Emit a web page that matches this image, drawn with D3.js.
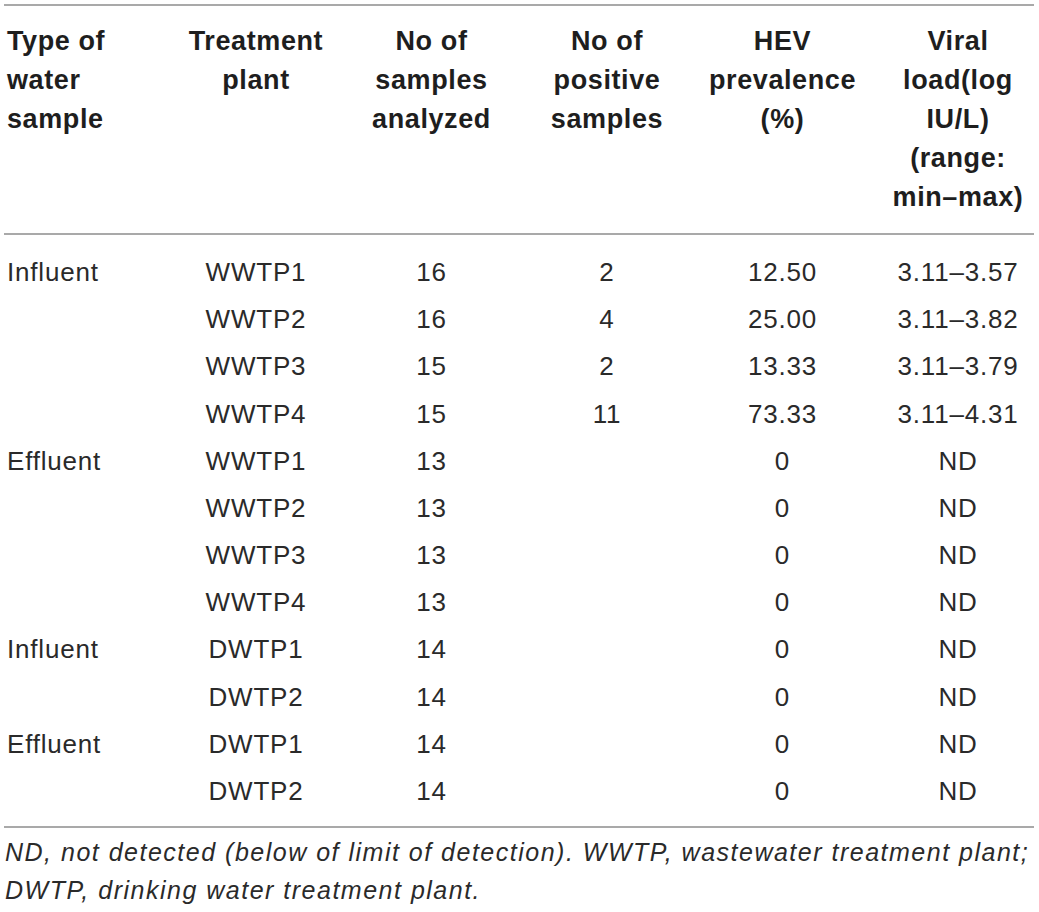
<!DOCTYPE html>
<html>
<head>
<meta charset="utf-8">
<script src="https://cdn.jsdelivr.net/npm/d3@7"></script>
<style>
  body { margin: 0; background: #fff; }
  svg text { font-family: "Liberation Sans", Arial, Helvetica, sans-serif; }
</style>
</head>
<body>
<div id="table"></div>
<script>
// table contents
const headers = [
  ['Type of', 'water', 'sample'],
  ['Treatment', 'plant'],
  ['No of', 'samples', 'analyzed'],
  ['No of', 'positive', 'samples'],
  ['HEV', 'prevalence', '(%)'],
  ['Viral', 'load(log', 'IU/L)', '(range:', 'min\u2013max)']
];
const waterType = ['Influent', '', '', '', 'Effluent', '', '', '', 'Influent', '', 'Effluent', ''];
const plants = ['WWTP1', 'WWTP2', 'WWTP3', 'WWTP4', 'WWTP1', 'WWTP2', 'WWTP3', 'WWTP4', 'DWTP1', 'DWTP2', 'DWTP1', 'DWTP2'];
const analyzed = ['16', '16', '15', '15', '13', '13', '13', '13', '14', '14', '14', '14'];
const positive = ['2', '4', '2', '11', '', '', '', '', '', '', '', ''];
const prevalence = ['12.50', '25.00', '13.33', '73.33', '0', '0', '0', '0', '0', '0', '0', '0'];
const viralLoad = ['3.11\u20133.57', '3.11\u20133.82', '3.11\u20133.79', '3.11\u20134.31', 'ND', 'ND', 'ND', 'ND', 'ND', 'ND', 'ND', 'ND'];
const footnote = [
  'ND, not detected (below of limit of detection). WWTP, wastewater treatment plant;',
  'DWTP, drinking water treatment plant.'
];

const width = 1039, height = 912;
const svg = d3.select('#table').append('svg')
  .attr('width', width)
  .attr('height', height);

const columns = [waterType, plants, analyzed, positive, prevalence, viralLoad];

// centred columns 1..5, first column left aligned
const x = d3.scalePoint()
  .domain(d3.range(1, 6))
  .range([256, 958]);
const colX = i => i === 0 ? 7 : x(i);
const colAnchor = i => i === 0 ? 'start' : 'middle';

// rules
const rules = [5, 234, 827];
svg.selectAll('.rule')
  .data(rules)
  .enter().append('line')
  .attr('class', 'rule')
  .attr('x1', 4).attr('x2', 1034)
  .attr('y1', d => d).attr('y2', d => d)
  .attr('stroke', '#8c8c8c')
  .attr('stroke-width', 1.6);

// header
const headerY = d3.scaleLinear().domain([0, 1]).range([50, 89]);
headers.forEach((lines, i) => {
  svg.append('text')
    .attr('x', colX(i))
    .attr('text-anchor', colAnchor(i))
    .attr('font-size', 27)
    .attr('font-weight', 'bold')
    .attr('letter-spacing', 0.6)
    .attr('fill', '#1e1e1e')
    .selectAll('tspan')
    .data(lines)
    .enter().append('tspan')
    .attr('x', colX(i))
    .attr('y', (d, j) => headerY(j))
    .text(d => d);
});

// body rows
const y = d3.scalePoint()
  .domain(d3.range(plants.length))
  .range([272, 791]);

columns.forEach((col, i) => {
  svg.selectAll('.c' + i)
    .data(col)
    .enter().append('text')
    .attr('class', 'c' + i)
    .attr('x', colX(i))
    .attr('y', (d, r) => y(r) + 9)
    .attr('text-anchor', colAnchor(i))
    .attr('font-size', 26)
    .attr('letter-spacing', 0.8)
    .attr('fill', '#2a2a2a')
    .text(d => d);
});

// footnote
svg.selectAll('.foot')
  .data(footnote)
  .enter().append('text')
  .attr('class', 'foot')
  .attr('x', 5)
  .attr('y', (d, i) => 861 + i * 37.5)
  .attr('font-size', 25)
  .attr('font-style', 'italic')
  .attr('letter-spacing', 1.5)
  .attr('fill', '#2a2a2a')
  .text(d => d);
</script>
</body>
</html>
